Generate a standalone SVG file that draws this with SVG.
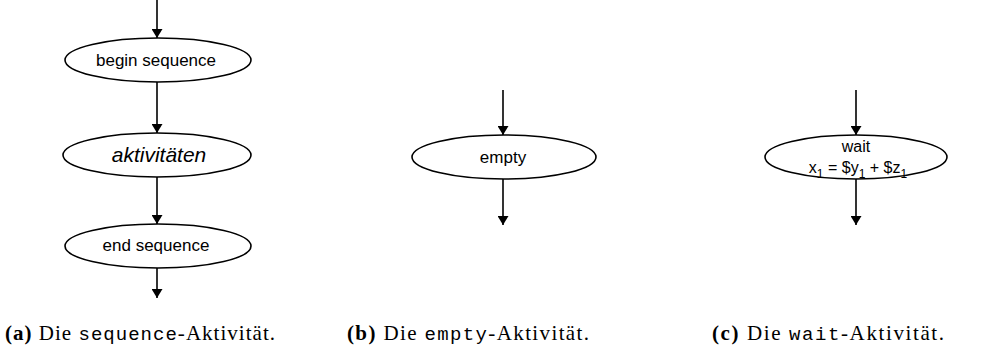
<svg xmlns="http://www.w3.org/2000/svg" width="991" height="354" viewBox="0 0 991 354">
<defs>
<marker id="ah" viewBox="0 0 10 10" refX="10" refY="5" markerWidth="9" markerHeight="11" markerUnits="userSpaceOnUse" orient="auto" preserveAspectRatio="none">
<path d="M0,0 L10,5 L0,10 z" fill="#000"/>
</marker>
<style>
.n{fill:#fff;stroke:#000;stroke-width:1.6}
.t{font-family:"Liberation Sans",Arial,sans-serif;font-size:17px;fill:#000;text-anchor:middle}
.c{stroke:#000;stroke-width:1.6;fill:none;marker-end:url(#ah)}
.cap{font-family:"Liberation Serif","DejaVu Serif",serif;font-size:21px;fill:#000}
.tt{font-family:"Liberation Mono","DejaVu Sans Mono",monospace;font-size:19px}
.b{font-weight:bold}
</style>
</defs>
<g id="connectors">
<line class="c" x1="157" y1="0" x2="157" y2="38"/>
<line class="c" x1="157" y1="82" x2="157" y2="133"/>
<line class="c" x1="157" y1="177" x2="157" y2="224"/>
<line class="c" x1="157" y1="268" x2="157" y2="298"/>
<line class="c" x1="503" y1="90" x2="503" y2="135"/>
<line class="c" x1="503" y1="179" x2="503" y2="225"/>
<line class="c" x1="856" y1="90" x2="856" y2="135"/>
<line class="c" x1="856" y1="179" x2="856" y2="225"/>
</g>
<g id="begin">
<ellipse class="n" cx="158" cy="60" rx="93" ry="22"/>
<text class="t" x="156" y="66">begin sequence</text>
</g>
<g id="aktivitaeten">
<ellipse class="n" cx="157" cy="155" rx="94" ry="22"/>
<text class="t" x="159" y="162" style="font-style:italic;font-size:21px">aktivitäten</text>
</g>
<g id="end">
<ellipse class="n" cx="158" cy="246" rx="93" ry="22"/>
<text class="t" x="156" y="251">end sequence</text>
</g>
<g id="empty">
<ellipse class="n" cx="504" cy="157" rx="92" ry="22"/>
<text class="t" x="503" y="163">empty</text>
</g>
<g id="wait">
<ellipse class="n" cx="856" cy="157" rx="91" ry="22"/>
<text class="t" x="856" y="152" style="font-size:16px">wait</text>
<text class="t" x="858" y="173" style="font-size:16px">x<tspan font-size="12" dy="5">1</tspan><tspan dy="-5"> = $y</tspan><tspan font-size="12" dy="5">1</tspan><tspan dy="-5"> + $z</tspan><tspan font-size="12" dy="5">1</tspan></text>
</g>
<g id="captions">
<text class="cap" x="5" y="340" textLength="270" lengthAdjust="spacing"><tspan class="b">(a)</tspan> Die <tspan class="tt">sequence</tspan>-Aktivität.</text>
<text class="cap" x="347" y="340" textLength="242" lengthAdjust="spacing"><tspan class="b">(b)</tspan> Die <tspan class="tt">empty</tspan>-Aktivität.</text>
<text class="cap" x="712" y="340" textLength="232" lengthAdjust="spacing"><tspan class="b">(c)</tspan> Die <tspan class="tt">wait</tspan>-Aktivität.</text>
</g>
</svg>
